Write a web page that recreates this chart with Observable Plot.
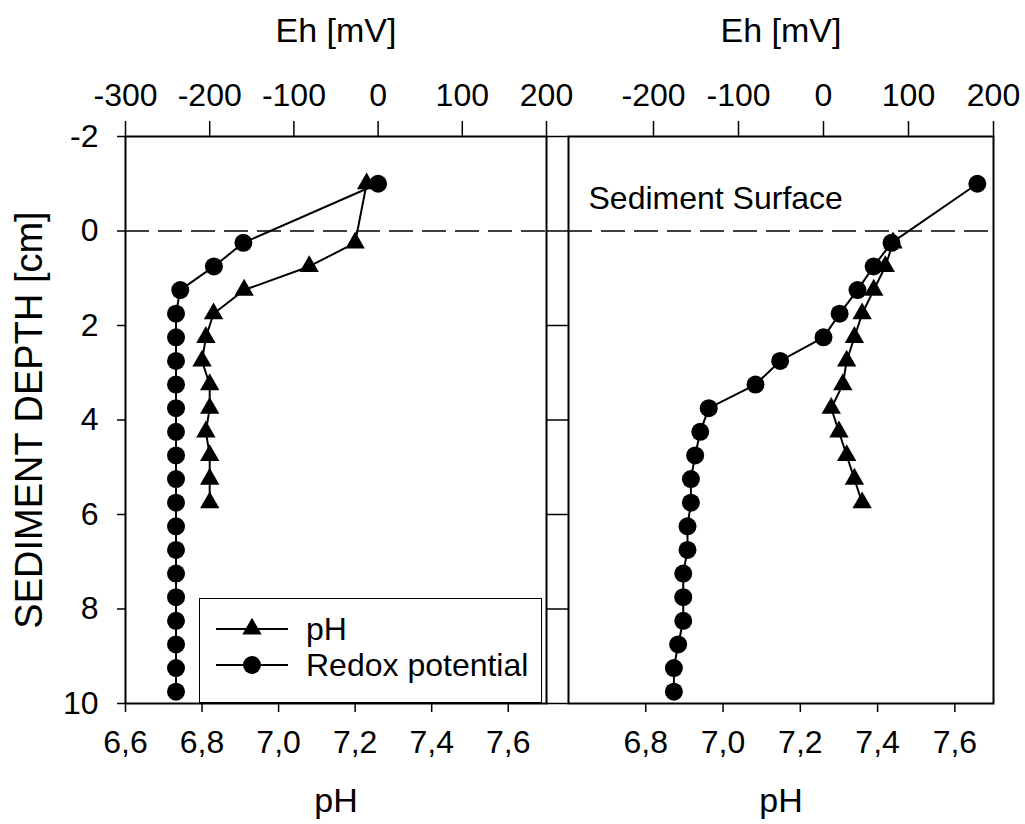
<!DOCTYPE html>
<html><head><meta charset="utf-8">
<script src="https://cdn.jsdelivr.net/npm/d3@7"></script>
<script src="https://cdn.jsdelivr.net/npm/@observablehq/plot@0.6"></script>
<style>
body{margin:0;background:#fff;}
#chart{position:relative;width:1025px;height:824px;font-family:"Liberation Sans",Arial,sans-serif;}
#chart svg.plotsvg{position:absolute;left:0;top:0;}
#legend{position:absolute;left:199px;top:598px;width:341px;height:103px;border:1.5px solid #000;background:#fff;}
</style></head><body><div id="chart"></div>
<script>
// ---- data ----
const depthTicks = [-2, 0, 2, 4, 6, 8, 10];
const phTicksLeft = [6.6, 6.8, 7.0, 7.2, 7.4, 7.6];
const phTicksRight = [6.8, 7.0, 7.2, 7.4, 7.6];
const ehTicksLeft = [-300, -200, -100, 0, 100, 200];
const ehTicksRight = [-200, -100, 0, 100, 200];

const leftPhDepth = [-1, 0.25, 0.75, 1.25, 1.75, 2.25, 2.75, 3.25, 3.75, 4.25, 4.75, 5.25, 5.75];
const leftPh      = [7.23, 7.20, 7.08, 6.91, 6.83, 6.81, 6.80, 6.82, 6.82, 6.81, 6.82, 6.82, 6.82];

const leftEhDepth = [-1, 0.25, 0.75, 1.25, 1.75, 2.25, 2.75, 3.25, 3.75, 4.25, 4.75, 5.25, 5.75, 6.25, 6.75, 7.25, 7.75, 8.25, 8.75, 9.25, 9.75];
const leftEh      = [0, -160, -195, -235, -240, -240, -240, -240, -240, -240, -240, -240, -240, -240, -240, -240, -240, -240, -240, -240, -240];

const rightPhDepth = [0.25, 0.75, 1.25, 1.75, 2.25, 2.75, 3.25, 3.75, 4.25, 4.75, 5.25, 5.75];
const rightPh      = [7.44, 7.42, 7.39, 7.36, 7.34, 7.32, 7.31, 7.28, 7.30, 7.32, 7.34, 7.36];

const rightEhDepth = [-1, 0.25, 0.75, 1.25, 1.75, 2.25, 2.75, 3.25, 3.75, 4.25, 4.75, 5.25, 5.75, 6.25, 6.75, 7.25, 7.75, 8.25, 8.75, 9.25, 9.75];
const rightEh      = [181, 80, 59, 40, 19, 0, -51, -80, -135, -145, -151, -156, -156, -160, -160, -165, -165, -165, -171, -176, -176];

// ---- helpers: Eh axis (top) shares the pH x scale (bottom) ----
const phDomain = [6.6, 7.7];
const ehDomain = [-300, 200];
const ehToPh = d3.scaleLinear().domain(ehDomain).range(phDomain);

const FONT = '"Liberation Sans", Arial, sans-serif';

function panel({left, right, ph, phDepth, eh, ehDepth, phTicks, ehTicks, showY, annotate}) {
  const phData = ph.map((v, i) => ({x: v, depth: phDepth[i]}));
  const ehData = eh.map((v, i) => ({x: ehToPh(v), depth: ehDepth[i]}));
  const marks = [
    Plot.ruleY([0], {strokeDasharray: "24,9", strokeWidth: 1.6}),
    Plot.axisX({anchor: "bottom", ticks: phTicks, tickSize: 9, tickPadding: 18, strokeWidth: 1.5,
      tickFormat: d => d.toFixed(1).replace(".", ","), label: null, fontSize: 32}),
    Plot.axisX({anchor: "top", ticks: ehTicks.map(ehToPh), tickSize: 16, tickPadding: 15, strokeWidth: 1.5,
      tickFormat: d => String(Math.round(ehToPh.invert(d))), label: null, fontSize: 32}),
    showY
      ? Plot.axisY({anchor: "left", ticks: depthTicks, tickSize: 8, tickPadding: 19, strokeWidth: 1.5,
          tickFormat: d => String(d), label: null, fontSize: 32})
      : Plot.axisY({anchor: "left", ticks: depthTicks, tickSize: 22, strokeWidth: 1.5,
          tickFormat: () => "", label: null}),
    Plot.frame({stroke: "#000", strokeWidth: 2}),
    Plot.text(["Eh [mV]"], {frameAnchor: "top", lineAnchor: "middle", dy: -105, fontSize: 34, text: d => d}),
    Plot.text(["pH"], {frameAnchor: "bottom", lineAnchor: "middle", dy: 98, fontSize: 34, text: d => d}),
    Plot.line(ehData, {x: "x", y: "depth", stroke: "#000", strokeWidth: 2}),
    Plot.line(phData, {x: "x", y: "depth", stroke: "#000", strokeWidth: 2}),
    Plot.dot(phData, {x: "x", y: "depth", symbol: "triangle", r: 7.2, fill: "#000", stroke: "none"}),
    Plot.dot(ehData, {x: "x", y: "depth", symbol: "circle", r: 9, fill: "#000", stroke: "none"})
  ];
  if (showY) {
    marks.push(Plot.text(["SEDIMENT DEPTH [cm]"], {frameAnchor: "left", textAnchor: "middle", lineAnchor: "middle",
      rotate: -90, dx: -96, fontSize: 38, text: d => d}));
  }
  if (annotate) {
    marks.push(Plot.text([annotate], {frameAnchor: "top-left", textAnchor: "start", lineAnchor: "bottom",
      dx: 20, dy: 72, fontSize: 32, text: d => d}));
  }
  const svg = Plot.plot({
    width: 1025, height: 824,
    marginLeft: left, marginRight: 1025 - right, marginTop: 136, marginBottom: 121,
    x: {domain: phDomain},
    y: {domain: [-2, 10], reverse: true},
    style: {fontFamily: FONT, fontSize: "32px", color: "#000", background: "none", overflow: "visible"},
    marks
  });
  svg.classList.add("plotsvg");
  return svg;
}

const chart = document.getElementById("chart");
chart.appendChild(panel({left: 125, right: 546, ph: leftPh, phDepth: leftPhDepth, eh: leftEh, ehDepth: leftEhDepth,
  phTicks: phTicksLeft, ehTicks: ehTicksLeft, showY: true}));
chart.appendChild(panel({left: 568, right: 993, ph: rightPh, phDepth: rightPhDepth, eh: rightEh, ehDepth: rightEhDepth,
  phTicks: phTicksRight, ehTicks: ehTicksRight, showY: false, annotate: "Sediment Surface"}));

// ---- legend ----
const legendItems = ["pH", "Redox potential"];
const legendSymbols = ["triangle", "circle"];
const legend = document.createElement("div");
legend.id = "legend";
const ns = "http://www.w3.org/2000/svg";
const lsvg = document.createElementNS(ns, "svg");
lsvg.setAttribute("width", 341); lsvg.setAttribute("height", 103);
legendItems.forEach((name, i) => {
  const cy = 30 + i * 36;
  const line = document.createElementNS(ns, "line");
  line.setAttribute("x1", 16); line.setAttribute("x2", 88);
  line.setAttribute("y1", cy); line.setAttribute("y2", cy);
  line.setAttribute("stroke", "#000"); line.setAttribute("stroke-width", 2);
  lsvg.appendChild(line);
  const sym = document.createElementNS(ns, "path");
  const size = legendSymbols[i] === "circle" ? Math.PI * 9 * 9 : Math.PI * 7.2 * 7.2;
  sym.setAttribute("d", d3.symbol(legendSymbols[i] === "circle" ? d3.symbolCircle : d3.symbolTriangle, size)());
  sym.setAttribute("transform", `translate(52,${cy})`);
  lsvg.appendChild(sym);
  const t = document.createElementNS(ns, "text");
  t.setAttribute("x", 106); t.setAttribute("y", cy + 11);
  t.setAttribute("font-family", FONT); t.setAttribute("font-size", 32);
  t.textContent = name;
  lsvg.appendChild(t);
});
legend.appendChild(lsvg);
chart.appendChild(legend);
</script>
</body></html>
